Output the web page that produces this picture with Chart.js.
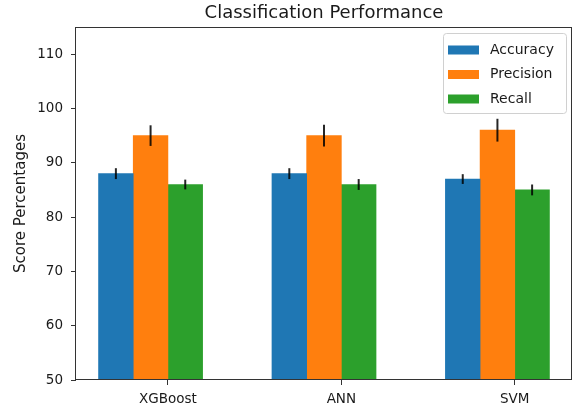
<!DOCTYPE html>
<html>
<head>
<meta charset="utf-8">
<script src="https://cdn.jsdelivr.net/npm/chart.js@4/dist/chart.umd.min.js"></script>
<style>
  html, body { margin: 0; padding: 0; background: #fff; }
  #wrap { width: 579px; height: 412px; }
</style>
</head>
<body>
<div id="wrap"><canvas id="chart"></canvas></div>
<script>
// values
const models = ['XGBoost', 'ANN', 'SVM'];
const accuracy = [88, 88, 87];
const precision = [95, 95, 96];
const recall = [86, 86, 85];
const accuracy_err = [1.0, 1.0, 0.9];
const precision_err = [1.9, 2.0, 2.1];
const recall_err = [0.9, 1.0, 1.0];
const y_ticks = [50, 60, 70, 80, 90, 100, 110];

const font = 'DejaVu Sans';
const textColor = '#1a1a1a';
const spineColor = '#333';

// bars sit at x - 0.3, x - 0.1, x + 0.1 (width 0.2), like the matplotlib original
function makeSet(label, values, errs, offset, color) {
    return {
        label: label,
        data: values.map((v, i) => ({ x: i + offset, y: v })),
        errors: errs,
        backgroundColor: color,
        borderWidth: 0,
        barPercentage: 1,
        categoryPercentage: 1,
        grouped: false
    };
}

const errorBars = {
    id: 'errorBars',
    afterDatasetsDraw(chart) {
        const ctx = chart.ctx;
        const yScale = chart.scales.y;
        ctx.save();
        ctx.strokeStyle = 'rgba(0,0,0,0.85)';
        ctx.lineWidth = 2;
        chart.data.datasets.forEach((ds, di) => {
            const meta = chart.getDatasetMeta(di);
            meta.data.forEach((bar, i) => {
                const v = ds.data[i].y;
                const e = ds.errors[i];
                ctx.beginPath();
                ctx.moveTo(bar.x, yScale.getPixelForValue(v - e));
                ctx.lineTo(bar.x, yScale.getPixelForValue(v + e));
                ctx.stroke();
            });
        });
        ctx.restore();
    }
};

const frameAndLegend = {
    id: 'frameAndLegend',
    afterDraw(chart) {
        const ctx = chart.ctx;
        const a = chart.chartArea;
        ctx.save();

        // all four spines
        ctx.strokeStyle = spineColor;
        ctx.lineWidth = 1;
        ctx.strokeRect(Math.round(a.left) - 0.5, Math.round(a.top) + 0.5,
            Math.round(a.right - a.left), Math.round(a.bottom - a.top) - 1);

        // title centred over the axes
        ctx.fillStyle = textColor;
        ctx.font = '18px "' + font + '"';
        ctx.textAlign = 'center';
        ctx.textBaseline = 'alphabetic';
        ctx.fillText('Classification Performance', (a.left + a.right) / 2, 18);

        // legend box, upper right inside the axes
        const boxW = 123, boxH = 80;
        const bx = a.right - 6 - boxW, by = a.top + 6;
        ctx.beginPath();
        ctx.roundRect(bx + 0.5, by + 0.5, boxW, boxH, 3);
        ctx.fillStyle = 'rgba(255,255,255,0.8)';
        ctx.fill();
        ctx.strokeStyle = '#d0d0d0';
        ctx.stroke();

        ctx.font = '14px "' + font + '"';
        ctx.textAlign = 'left';
        ctx.textBaseline = 'middle';
        chart.data.datasets.forEach((ds, i) => {
            const cy = by + 17 + i * 24.5;
            ctx.fillStyle = ds.backgroundColor;
            ctx.fillRect(bx + 5, cy - 4.5, 31, 9);
            ctx.fillStyle = textColor;
            ctx.fillText(ds.label, bx + 47, cy);
        });
        ctx.restore();
    }
};

new Chart(document.getElementById('chart'), {
    type: 'bar',
    data: {
        datasets: [
            makeSet('Accuracy', accuracy, accuracy_err, -0.3, '#1f77b4'),
            makeSet('Precision', precision, precision_err, -0.1, '#ff7f0e'),
            makeSet('Recall', recall, recall_err, 0.1, '#2ca02c')
        ]
    },
    options: {
        responsive: true,
        maintainAspectRatio: false,
        animation: false,
        layout: { padding: { top: 27, right: 7, left: 0, bottom: 0 } },
        plugins: {
            legend: { display: false },
            title: { display: false },
            tooltip: { enabled: false }
        },
        scales: {
            x: {
                type: 'linear',
                min: -0.53,
                max: 2.33,
                offset: false,
                grid: { offset: false, drawOnChartArea: false, drawTicks: true, tickLength: 5, tickColor: spineColor },
                border: { display: false },
                ticks: {
                    includeBounds: false,
                    autoSkip: false,
                    maxRotation: 0,
                    padding: 6,
                    color: textColor,
                    font: { family: font, size: 13.5 },
                    callback: (v) => models[v]
                },
                afterBuildTicks: (scale) => {
                    scale.ticks = models.map((m, i) => ({ value: i }));
                },
                afterFit: (scale) => { scale.height = 32; }
            },
            y: {
                min: 50,
                max: 115,
                grid: { drawOnChartArea: false, drawTicks: true, tickLength: 5, tickColor: spineColor },
                border: { display: false },
                ticks: {
                    includeBounds: false,
                    padding: 8,
                    color: textColor,
                    font: { family: font, size: 13.5 }
                },
                afterBuildTicks: (scale) => {
                    scale.ticks = y_ticks.map(v => ({ value: v }));
                },
                title: {
                    display: true,
                    text: 'Score Percentages',
                    color: textColor,
                    font: { family: font, size: 15 },
                    padding: { top: 12, bottom: 0 }
                },
                afterFit: (scale) => { scale.width = 76; }
            }
        }
    },
    plugins: [errorBars, frameAndLegend]
});
</script>
</body>
</html>
